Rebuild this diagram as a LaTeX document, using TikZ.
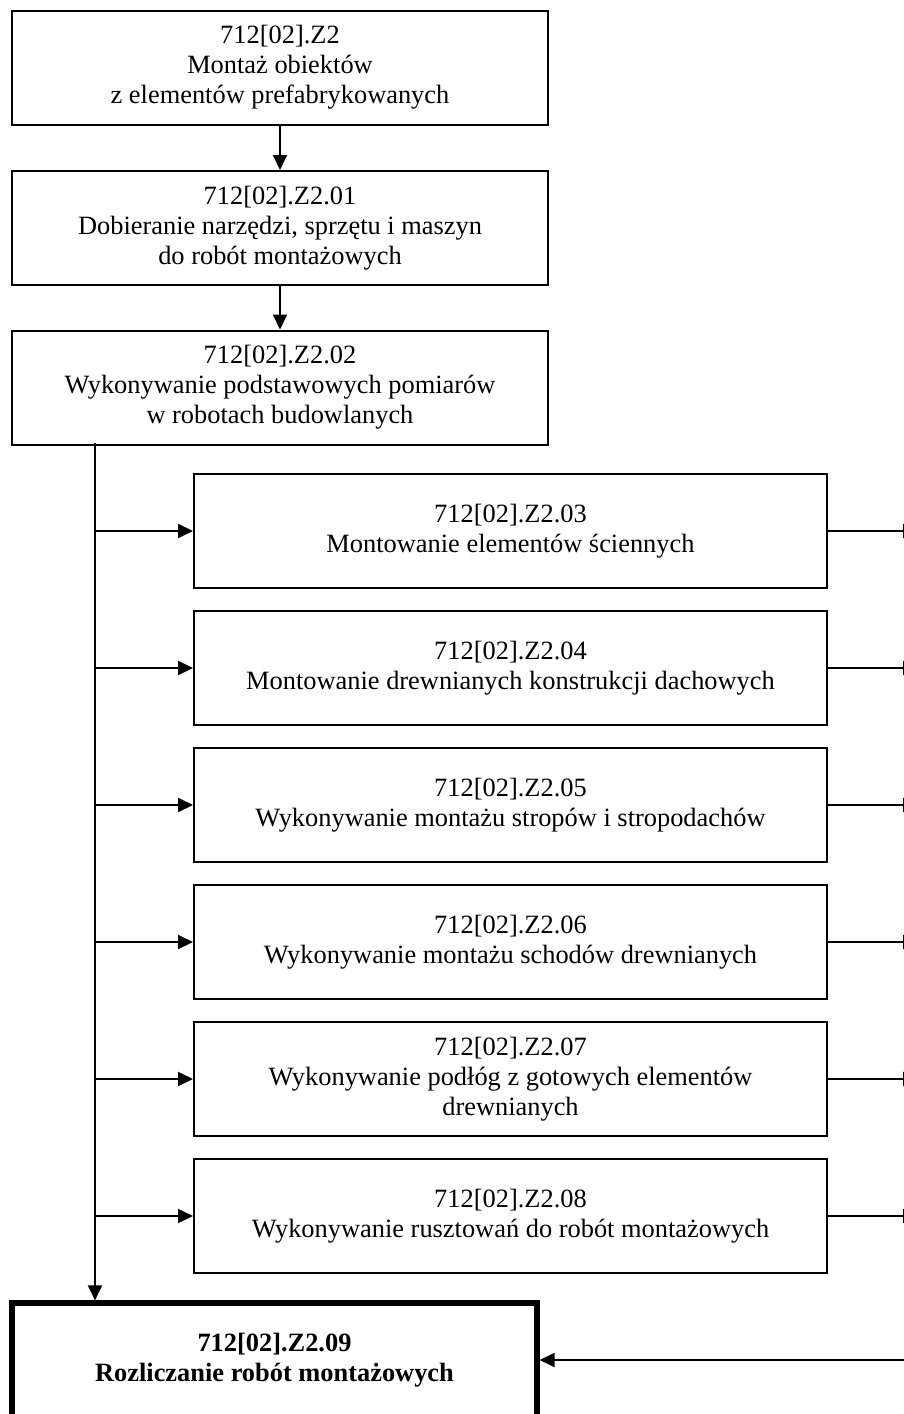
\documentclass[tikz,border=0pt]{standalone}
\usepackage{fontspec}
\setmainfont{Liberation Serif}
\usetikzlibrary{arrows.meta}

\tikzset{every picture/.style={line width=1pt}}
\tikzset{
  box/.style={draw, align=center, inner sep=0pt, minimum width=268pt, minimum height=57pt,
    font=\fontsize{13.2}{15}\selectfont},
  subbox/.style={box, minimum width=316.5pt},
  endbox/.style={box, line width=2.6pt, minimum width=262.5pt, font=\fontsize{13.2}{15}\selectfont\bfseries},
  link/.style={-{Triangle[length=7.5pt,width=7pt]}}
}

\begin{document}
\begin{tikzpicture}[x=0.5pt,y=0.5pt,yscale=-1]
\useasboundingbox (0,0) rectangle (904,1414);

\node (top) at (280,67.5) [box] {712[02].Z2\\Montaż obiektów\\z elementów prefabrykowanych};
\node (z01) at (280,228) [box] {712[02].Z2.01\\Dobieranie narzędzi, sprzętu i maszyn\\do robót montażowych};
\node (z02) at (280,387.5) [box] {712[02].Z2.02\\Wykonywanie podstawowych pomiarów\\w robotach budowlanych};

\node (z03) at (510.5,531) [subbox] {712[02].Z2.03\\Montowanie elementów ściennych};
\node (z04) at (510.5,668) [subbox] {712[02].Z2.04\\Montowanie drewnianych konstrukcji dachowych};
\node (z05) at (510.5,805) [subbox] {712[02].Z2.05\\Wykonywanie montażu stropów i stropodachów};
\node (z06) at (510.5,942) [subbox] {712[02].Z2.06\\Wykonywanie montażu schodów drewnianych};
\node (z07) at (510.5,1079) [subbox] {712[02].Z2.07\\Wykonywanie podłóg z gotowych elementów\\drewnianych};
\node (z08) at (510.5,1216) [subbox] {712[02].Z2.08\\Wykonywanie rusztowań do robót montażowych};

\node (z09) at (274.5,1360) [endbox] {712[02].Z2.09\\Rozliczanie robót montażowych};

\coordinate (trunk) at (95,443);
\coordinate (rim) at (918,0);

\draw [link] (top) -- (z01);
\draw [link] (z01) -- (z02);
\draw [link] (trunk) -- (trunk |- z09.north);

\foreach \i in {03,04,05,06,07,08} {
  \draw [link] (trunk |- z\i) -- (z\i.west);
  \draw [link] (z\i.east) -- (z\i.east -| rim);
}

\draw [link] (z09.east -| rim) -- (z09.east);

\end{tikzpicture}
\end{document}
